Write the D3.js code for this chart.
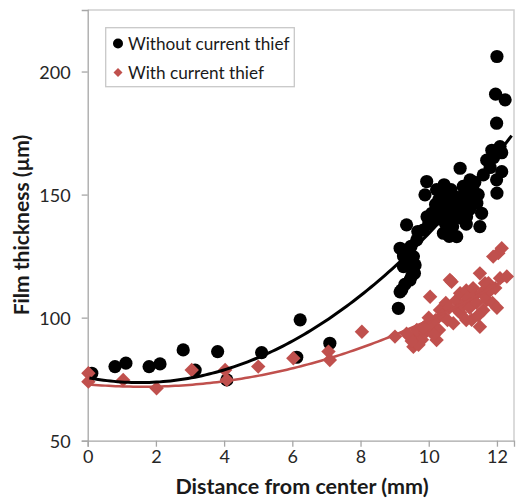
<!DOCTYPE html>
<html>
<head>
<meta charset="utf-8">
<script src="https://cdn.jsdelivr.net/npm/d3@7"></script>
<style>
  html, body { margin: 0; padding: 0; background: #fff; }
  svg { display: block; }
  text { font-family: Lato, "Open Sans", sans-serif; }
</style>
</head>
<body>
<svg id="chart" width="517" height="502"></svg>
<script>
// Film thickness vs. distance from the centre, with and without a current thief.

// Series without a current thief: [distance (mm), thickness (µm)]
const withoutThief = [
  [0.12, 77.4], [0.8, 80.1], [1.12, 81.5], [1.8, 80.1], [2.12, 81.2], [2.8, 86.9],
  [3.15, 78.7], [3.81, 86.2], [4.08, 74.7], [5.1, 85.8], [6.23, 99.1], [6.13, 83.9],
  [7.1, 89.6],
  [9.11, 103.8], [9.16, 110.5], [9.21, 111.3], [9.3, 113.5], [9.45, 115.3], [9.5, 117],
  [9.26, 120.7], [9.6, 121.4], [9.16, 128.2], [9.26, 125], [9.4, 126], [9.55, 124.8],
  [9.48, 129], [9.35, 137.7], [9.65, 131.6], [9.68, 135], [9.84, 135.6], [9.94, 155.3],
  [9.89, 149.9], [10.13, 139.7], [10.09, 142.4], [10.23, 152], [10.33, 143.8],
  [10.43, 134.3], [10.53, 145.1], [10.62, 149.2], [10.75, 141], [10.82, 132.9],
  [10.92, 160.7], [11.01, 153.3], [11.11, 141], [11.21, 156], [11.41, 146.5],
  [11.5, 137], [11.55, 142.4], [11.7, 164], [11.85, 168], [11.9, 165], [11.96, 190.8],
  [11.99, 179], [12.0, 206.1], [12.0, 150.6], [12.09, 169.5], [12.14, 167],
  [12.14, 159.3], [12.24, 188.5], [11.99, 156],
  [10.3, 148], [10.4, 150.5], [10.5, 138], [10.55, 141.5], [10.6, 144], [10.65, 152],
  [10.7, 146], [10.7, 137], [10.8, 149], [10.85, 143], [10.9, 147], [10.95, 140.5],
  [11.0, 145], [11.05, 150], [11.15, 148], [11.2, 144], [11.3, 152], [11.35, 155],
  [10.2, 146], [10.0, 138], [9.95, 141], [10.45, 154], [11.1, 138], [11.45, 150],
  [11.6, 158], [11.8, 161], [10.6, 133], [10.35, 140], [9.58, 118], [9.42, 121]
];

// Series with a current thief: [distance (mm), thickness (µm)]
const withThief = [
  [0.02, 77.4], [0.02, 74], [1.04, 74.7], [2.02, 71.3], [3.05, 78.7], [4.03, 78.7],
  [4.08, 74.7], [5.0, 80.1], [6.03, 83.5], [7.06, 86.2], [7.1, 82.8], [8.04, 94.3],
  [9.01, 92.3],
  [9.45, 92.3], [9.55, 88.2], [9.6, 90], [9.74, 93.7], [9.8, 91], [9.65, 95], [9.9, 94],
  [9.94, 97], [10.04, 108.5], [10.1, 96], [10.2, 99], [10.23, 90.9], [10.33, 103.1],
  [10.4, 101], [10.5, 106], [10.55, 99], [10.6, 104], [10.67, 114.6], [10.72, 97.7],
  [10.8, 107], [10.85, 103], [10.92, 109.9], [10.92, 102], [11.0, 105], [11.1, 111],
  [11.15, 108], [11.2, 104], [11.26, 99.1], [11.3, 112], [11.35, 109], [11.4, 106],
  [11.5, 118], [11.5, 96.3], [11.55, 110], [11.6, 103], [11.65, 114], [11.7, 107.2],
  [11.75, 114], [11.8, 111], [11.87, 106], [11.95, 112], [12.04, 126.2], [12.09, 116],
  [12.14, 128.2], [12.0, 104], [10.3, 95], [10.0, 100], [9.7, 89], [11.45, 101],
  [11.1, 99], [11.89, 124.8], [12.29, 116.7], [10.62, 115.3],
  [9.5, 90.5], [9.85, 96], [10.15, 93], [9.35, 93.5]
];

// Second-order polynomial trendlines: [c0, c1, c2] and the x range they span
const withoutTrend = [75.6, -2.59, 0.845];
const withoutTrendRange = [0.05, 12.43];
const withTrend = [72.9, -1.217, 0.383];
const withTrendRange = [0.0, 12.3];

// Axis ticks
const xTicks = [0, 2, 4, 6, 8, 10, 12];
const yTicks = [50, 100, 150, 200];

const seriesNames = ["Without current thief", "With current thief"];
const seriesColors = ["#000000", "#C0504D"];

const svg = d3.select("#chart");
const plot = { left: 87.7, right: 514, top: 10, bottom: 440.7 };

const x = d3.scaleLinear().domain([0, 12.5]).range([plot.left, plot.right]);
const y = d3.scaleLinear().domain([50, 225]).range([plot.bottom, plot.top]);

// Plot area frame (top and right edges)
svg.append("path")
  .attr("d", `M${plot.left},${plot.top}H${plot.right}V${plot.bottom}`)
  .attr("fill", "none")
  .attr("stroke", "#d0d0d0")
  .attr("stroke-width", 1.5);

// Axes
const xAxis = svg.append("g")
  .attr("transform", `translate(0,${plot.bottom})`)
  .call(d3.axisBottom(x).tickValues(xTicks).tickSize(6).tickPadding(4).tickFormat(d3.format("d")));
const yAxis = svg.append("g")
  .attr("transform", `translate(${plot.left},0)`)
  .call(d3.axisLeft(y).tickValues(yTicks).tickSize(6).tickPadding(11).tickFormat(d3.format("d")));

[xAxis, yAxis].forEach(g => {
  g.select(".domain").attr("stroke", "#a6a6a6").attr("stroke-width", 1.3);
  g.selectAll(".tick line").attr("stroke", "#a6a6a6").attr("stroke-width", 1.3);
  g.selectAll(".tick text")
    .attr("fill", "#262626")
    .style("font-family", "Lato, sans-serif")
    .style("font-size", "18px");
});
yAxis.selectAll(".tick text").attr("dy", "0.36em");

// Axis titles
svg.append("text")
  .attr("x", 302)
  .attr("y", 494)
  .attr("text-anchor", "middle")
  .style("font-size", "21.5px")
  .style("font-weight", "bold")
  .attr("fill", "#1a1a1a")
  .text("Distance from center (mm)");

svg.append("text")
  .attr("transform", "translate(29,225) rotate(-90)")
  .attr("text-anchor", "middle")
  .style("font-size", "21px")
  .style("font-weight", "bold")
  .attr("fill", "#1a1a1a")
  .text("Film thickness (µm)");

// Trendline paths
function trendPoints(coef, range) {
  const steps = 120;
  return d3.range(steps + 1).map(i => {
    const xv = range[0] + (range[1] - range[0]) * i / steps;
    return [xv, coef[0] + coef[1] * xv + coef[2] * xv * xv];
  });
}
const line = d3.line().x(d => x(d[0])).y(d => y(d[1]));

// Markers
svg.append("g")
  .selectAll("circle")
  .data(withoutThief)
  .join("circle")
  .attr("cx", d => x(d[0]))
  .attr("cy", d => y(d[1]))
  .attr("r", 6.6)
  .attr("fill", seriesColors[0]);

svg.append("g")
  .selectAll("path")
  .data(withThief)
  .join("path")
  .attr("transform", d => `translate(${x(d[0])},${y(d[1])}) rotate(45)`)
  .attr("d", d3.symbol().type(d3.symbolSquare).size(104)())
  .attr("fill", seriesColors[1]);

svg.append("path")
  .datum(trendPoints(withoutTrend, withoutTrendRange))
  .attr("d", line)
  .attr("fill", "none")
  .attr("stroke", seriesColors[0])
  .attr("stroke-width", 3);

svg.append("path")
  .datum(trendPoints(withTrend, withTrendRange))
  .attr("d", line)
  .attr("fill", "none")
  .attr("stroke", seriesColors[1])
  .attr("stroke-width", 2.5);

// Legend
const legend = svg.append("g");
legend.append("rect")
  .attr("x", 105.7).attr("y", 27.7)
  .attr("width", 188.6).attr("height", 59)
  .attr("fill", "#fff")
  .attr("stroke", "#c8c8c8")
  .attr("stroke-width", 1.3);

const rows = legend.selectAll("g.row")
  .data(seriesNames)
  .join("g")
  .attr("class", "row")
  .attr("transform", (d, i) => `translate(118,${43.5 + i * 29})`);

rows.filter((d, i) => i === 0).append("circle")
  .attr("r", 5)
  .attr("fill", seriesColors[0]);
rows.filter((d, i) => i === 1).append("path")
  .attr("transform", "rotate(45)")
  .attr("d", d3.symbol().type(d3.symbolSquare).size(40)())
  .attr("fill", seriesColors[1]);

rows.append("text")
  .attr("x", 10)
  .attr("dy", "0.36em")
  .style("font-size", "17.2px")
  .attr("fill", "#1a1a1a")
  .text(d => d);
</script>
</body>
</html>
